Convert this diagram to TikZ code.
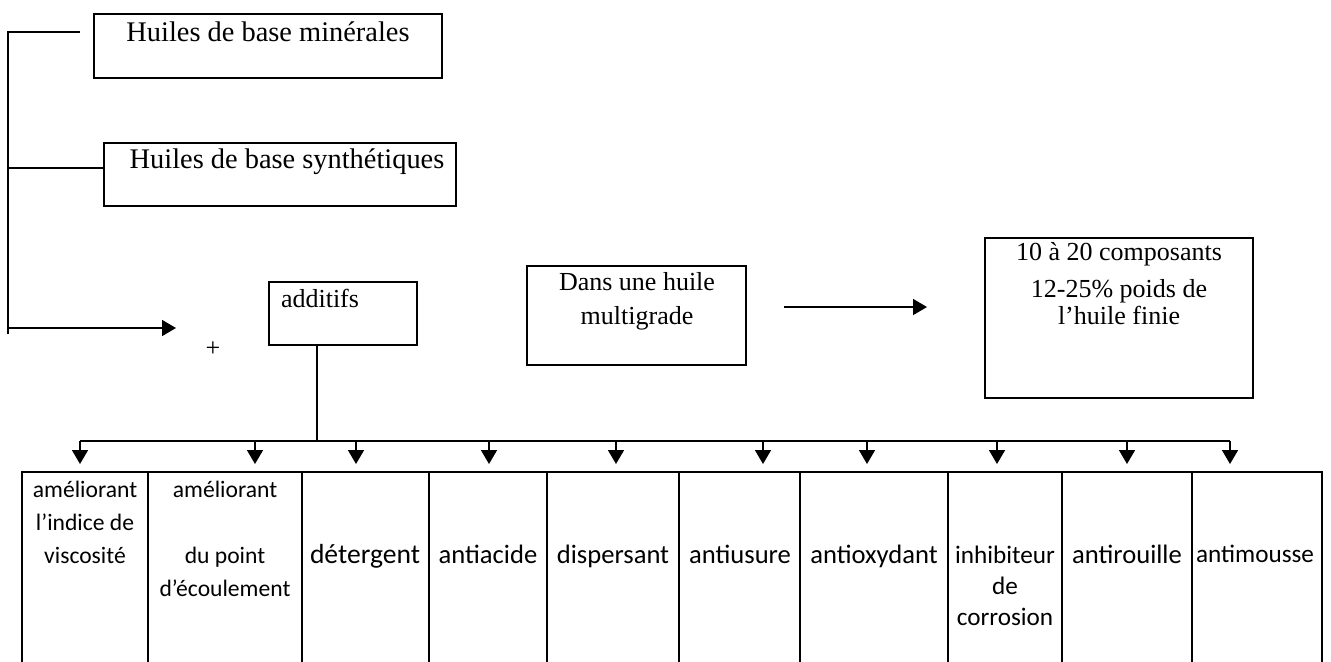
\documentclass[tikz,border=0pt]{standalone}
\usepackage{fontspec}
\setmainfont{Liberation Serif}
\newfontfamily\calib{Carlito}
\usetikzlibrary{arrows.meta,fit,calc}
\begin{document}
\begin{tikzpicture}[x=0.5pt,y=-0.5pt,
  box/.style={draw,line width=1pt,rectangle,inner sep=0pt},
  conn/.style={line width=0.8pt},
  arr/.style={conn,-{Triangle[length=7pt,width=8pt]}},
  lbl/.style={inner sep=0pt,align=center,font=\fontsize{13}{17}\selectfont},
  big/.style={inner sep=0pt,align=center,font=\fontsize{14.2}{17}\selectfont},
  cell/.style={inner sep=0pt,align=center,anchor=base,font=\calib\fontsize{13.3}{16.5}\selectfont},
  narrowcell/.style={cell,font=\calib\fontsize{11.8}{16.5}\selectfont},
  smallcell/.style={cell,font=\calib\fontsize{12.6}{15.5}\selectfont}]
\useasboundingbox (0,0) rectangle (1331,661);
\clip (0,0) rectangle (1331,661);

% upper boxes
\node[box, fit={(94,14) (442,78)}] (b1) {};
\node[big] (t1) at (268,32) {Huiles de base minérales};
\node[box, fit={(104,143) (456,206)}] (b2) {};
\node[big] (t2) at (287,162) {Huiles de base synthétiques};
\node[box, fit={(269,282) (417,345)}] (add) {};
\node[lbl] (tadd) at (320,298) {additifs};
\node[inner sep=0pt,font=\fontsize{13}{14}\selectfont] (plus) at (213,349) {+};
\node[box, fit={(527,266) (746,365)}] (multi) {};
\node[lbl] (tmulti) at (637,301) {Dans une huile\\multigrade};
\node[box, fit={(985,238) (1253,398)}] (comp) {};
\node[lbl] (tcomp1) at (1119,254) {10 à 20 composants};
\node[lbl,font=\fontsize{13}{13.5}\selectfont] (tcomp2) at (1119,302) {12-25\% poids de\\l’huile finie};

% left bracket
\coordinate (l1) at (8,32);
\coordinate (l1e) at (80,32);
\coordinate (l2) at (8,168);
\coordinate (l3) at (8,334);
\coordinate (l4) at (8,328);
\coordinate (l4e) at (176,328);
\draw[conn] (l1e) -- (l1) -- (l3);
\draw[conn] (l2) -- (b2.west |- l2);
\draw[arr] (l4) -- (l4e);

% middle arrow
\coordinate (m1) at (784,307);
\coordinate (m2) at (927,307);
\draw[arr] (m1) -- (m2);

% table cells
\node[box, fit={(22,472) (148,700)}] (c1) {};
\node[box, fit={(148,472) (302,700)}] (c2) {};
\node[box, fit={(302,472) (429,700)}] (c3) {};
\node[box, fit={(429,472) (547,700)}] (c4) {};
\node[box, fit={(547,472) (679,700)}] (c5) {};
\node[box, fit={(679,472) (800,700)}] (c6) {};
\node[box, fit={(800,472) (948,700)}] (c7) {};
\node[box, fit={(948,472) (1062,700)}] (c8) {};
\node[box, fit={(1062,472) (1192,700)}] (c9) {};
\node[box, fit={(1192,472) (1322,700)}] (c10) {};

\node[narrowcell] (x1) at (85,563) {améliorant\\l’indice de\\viscosité};
\node[narrowcell] (x2) at (225,596) {améliorant\\[16.5pt]du point\\d’écoulement};
\node[cell,font=\calib\fontsize{13.8}{16.5}\selectfont] (x3) at (365,563) {détergent};
\node[cell] (x4) at (488,563) {antiacide};
\node[cell] (x5) at (613,563) {dispersant};
\node[cell] (x6) at (740,563) {antiusure};
\node[cell] (x7) at (874,563) {antioxydant};
\node[smallcell] (x8) at (1005,625) {inhibiteur\\de\\corrosion};
\node[cell] (x9) at (1127,563) {antirouille};
\node[smallcell] (x10) at (1255,562) {antimousse};

% bus
\coordinate (bus) at (317,441);
\coordinate (busL) at (80,441);
\coordinate (busR) at (1230,441);
\draw[conn] (add.south -| bus) -- (bus);
\draw[conn] (busL) -- (busR);
\foreach \x/\c [count=\i] in {80/c1,255/c2,356/c3,489/c4,616/c5,763/c6,867/c7,997/c8,1127/c9,1230/c10}{
  \coordinate (tp\i) at (\x,441);
  \draw[arr] (tp\i) -- ($(\c.north -| tp\i)+(0,-7)$);
}
\end{tikzpicture}
\end{document}
